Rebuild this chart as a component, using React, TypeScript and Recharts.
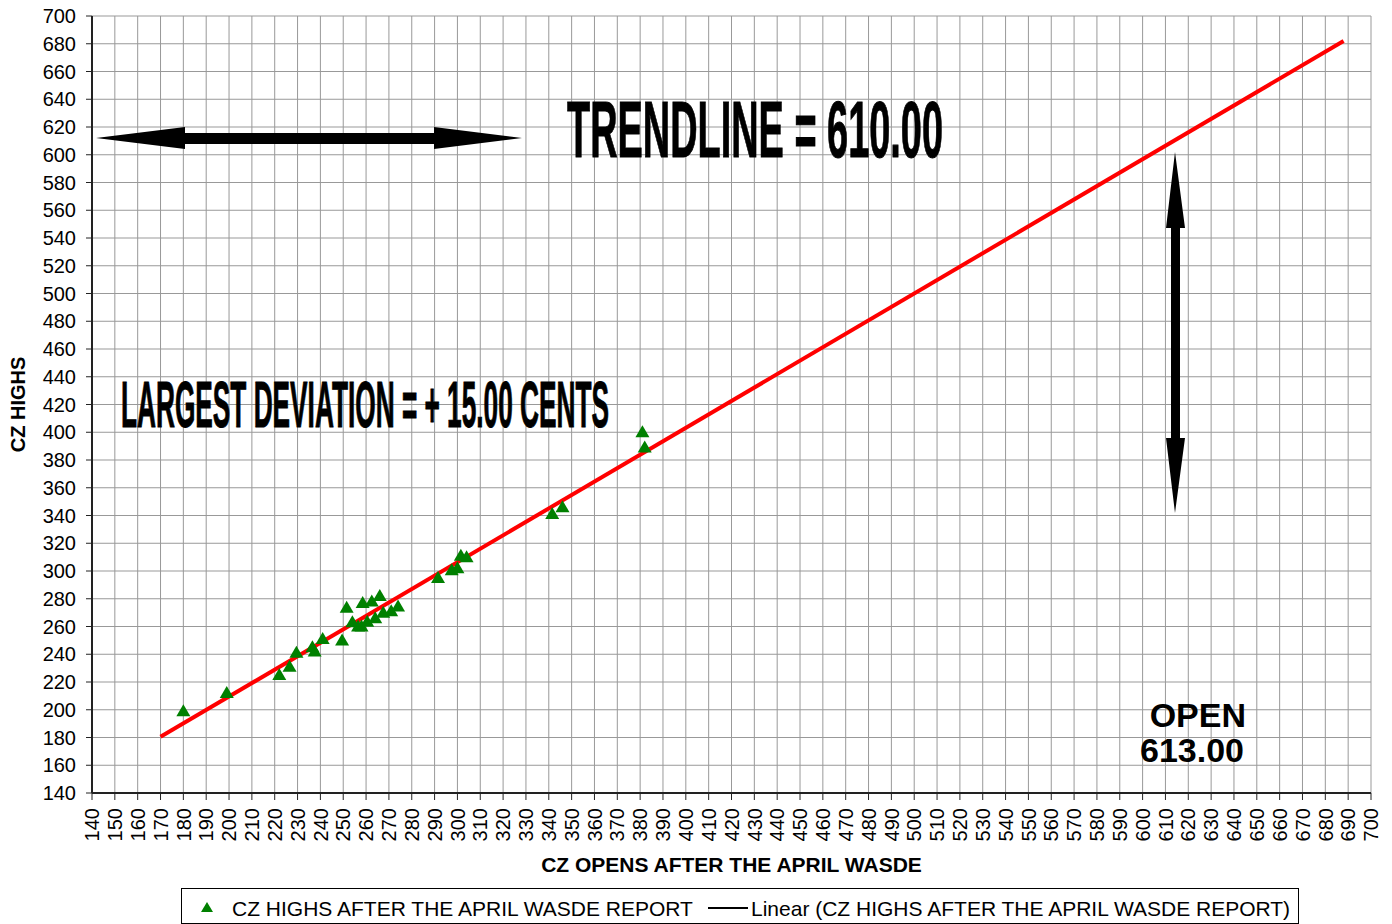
import React from "react";
import { ScatterChart, Scatter, XAxis, YAxis, CartesianGrid, Legend } from "recharts";

// CZ opens / highs after the April WASDE report
const opens = [
  180, 199, 222, 226.5, 229.5, 236.5, 237.5, 241, 249.5, 251.5, 254, 256.5, 258, 258.5,
  260.5, 262.5, 264, 266, 267.5, 271, 274, 291.5, 297.5, 300, 301.5, 304, 341.5, 346, 381, 382,
];
const highs = [
  199, 212, 225, 231, 241, 245, 242, 251, 250, 273.5, 263, 260, 260, 277,
  263.5, 278, 266, 282, 270, 271, 274.5, 295, 300.5, 302, 311, 310, 341, 346, 400, 389,
];

// linear trendline end points
const trendOpens = [170, 688];
const trendHighs = [180.5, 682];

const xTicks = [
  140, 150, 160, 170, 180, 190, 200, 210, 220, 230, 240, 250, 260, 270, 280, 290, 300, 310, 320,
  330, 340, 350, 360, 370, 380, 390, 400, 410, 420, 430, 440, 450, 460, 470, 480, 490, 500, 510,
  520, 530, 540, 550, 560, 570, 580, 590, 600, 610, 620, 630, 640, 650, 660, 670, 680, 690, 700,
];
const yTicks = [
  140, 160, 180, 200, 220, 240, 260, 280, 300, 320, 340, 360, 380, 400, 420, 440, 460, 480, 500,
  520, 540, 560, 580, 600, 620, 640, 660, 680, 700,
];

const seriesName = "CZ HIGHS AFTER THE APRIL WASDE REPORT";
const trendName = "Linear (CZ HIGHS AFTER THE APRIL WASDE REPORT)";

const FONT = "'Liberation Sans', Arial, sans-serif";

const scatterData = opens.map((o, i) => ({ open: o, high: highs[i] }));
const trendData = trendOpens.map((o, i) => ({ open: o, high: trendHighs[i] }));

const XTick = (props: any) => {
  const { x, y, payload } = props;
  return (
    <text
      x={x}
      y={y}
      transform={`rotate(-90, ${x}, ${y})`}
      textAnchor="end"
      dy="0.36em"
      fontSize={20}
      fontFamily={FONT}
      fill="#000"
    >
      {payload.value}
    </text>
  );
};

const YTitle = (props: any) => {
  const { viewBox } = props;
  const cx = viewBox.x + 25;
  const cy = viewBox.y + viewBox.height / 2;
  return (
    <text
      x={cx}
      y={cy}
      transform={`rotate(-90, ${cx}, ${cy})`}
      textAnchor="middle"
      fontSize={20}
      fontWeight="bold"
      fontFamily={FONT}
      fill="#000"
    >
      CZ HIGHS
    </text>
  );
};

// green triangle marker, about 14px wide
const Triangle = (props: any) => {
  const { cx, cy } = props;
  return <polygon points={`${cx},${cy - 7} ${cx + 7},${cy + 5} ${cx - 7},${cy + 5}`} fill="#008000" />;
};

const renderLegend = () => (
  <div style={{ border: "1px solid #000", width: 1116, height: 34, background: "#fff", boxSizing: "content-box" }}>
    <svg width={1116} height={34} style={{ display: "block" }}>
      <polygon points="25,13 31,23 19,23" fill="#008000" />
      <text x={50} y={27} fontSize={21} fontFamily={FONT} fill="#000">
        {seriesName}
      </text>
      <line x1={526} y1={19} x2={566} y2={19} stroke="#000" strokeWidth={2} />
      <text x={569} y={27} fontSize={21} fontFamily={FONT} fill="#000">
        {trendName}
      </text>
    </svg>
  </div>
);

const App: React.FC = () => {
  return (
    <div style={{ position: "absolute", left: 0, top: 0, width: 1392, height: 924, background: "#fff" }}>
      <ScatterChart width={1392} height={924} margin={{ top: 16, right: 21, left: 0, bottom: 0 }}>
        <CartesianGrid stroke="#999" strokeWidth={1} />
        <XAxis
          type="number"
          dataKey="open"
          domain={[140, 700]}
          ticks={xTicks}
          interval={0}
          height={95}
          tickSize={7}
          tickMargin={8}
          tick={<XTick />}
          stroke="#222"
          strokeWidth={2}
          tickLine={{ stroke: "#222", strokeWidth: 1 }}
          allowDataOverflow
          label={{
            value: "CZ OPENS AFTER THE APRIL WASDE",
            position: "insideBottom",
            offset: 16,
            fontSize: 21,
            fontWeight: "bold",
            fontFamily: FONT,
            fill: "#000",
          }}
        />
        <YAxis
          type="number"
          dataKey="high"
          domain={[140, 700]}
          ticks={yTicks}
          interval={0}
          width={92}
          tickSize={6}
          tickMargin={10}
          tick={{ fontSize: 20, fontFamily: FONT, fill: "#000" }}
          stroke="#222"
          strokeWidth={2}
          tickLine={{ stroke: "#222", strokeWidth: 1 }}
          allowDataOverflow
          label={<YTitle />}
        />
        <Legend
          verticalAlign="bottom"
          content={renderLegend}
          wrapperStyle={{ left: 181, top: 888, bottom: "auto", width: 1118, height: 36 }}
        />
        <Scatter
          name={trendName}
          data={trendData}
          line={{ stroke: "#FF0000", strokeWidth: 4 }}
          shape={() => <g />}
          legendType="line"
          isAnimationActive={false}
        />
        <Scatter
          name={seriesName}
          data={scatterData}
          fill="#008000"
          shape={<Triangle />}
          legendType="triangle"
          isAnimationActive={false}
        />
      </ScatterChart>

      {/* annotations drawn on top of the plot */}
      <svg
        width={1392}
        height={924}
        style={{ position: "absolute", left: 0, top: 0, pointerEvents: "none" }}
        fontFamily={FONT}
      >
        <polygon points="96,138 185,127 185,133 434,133 434,127 522,138 434,149 434,144 185,144 185,149" fill="#000" />
        <polygon points="1175,152 1185,228 1180,228 1180,438 1185,438 1175,513 1166,438 1171,438 1171,228 1166,228" fill="#000" />
        <text
          x={567}
          y={157}
          fontSize={80}
          fontWeight="bold"
          textLength={376}
          lengthAdjust="spacingAndGlyphs"
          stroke="#000"
          strokeWidth={1}
          fill="#000"
        >
          TRENDLINE = 610.00
        </text>
        <text
          x={121}
          y={427}
          fontSize={64}
          fontWeight="bold"
          textLength={488}
          lengthAdjust="spacingAndGlyphs"
          stroke="#000"
          strokeWidth={1}
          fill="#000"
        >
          LARGEST DEVIATION = + 15.00 CENTS
        </text>
        <text x={1246} y={727} fontSize={34} fontWeight="bold" textAnchor="end" fill="#000">
          OPEN
        </text>
        <text x={1244} y={762} fontSize={34} fontWeight="bold" textAnchor="end" fill="#000">
          613.00
        </text>
      </svg>
    </div>
  );
};

export default App;
